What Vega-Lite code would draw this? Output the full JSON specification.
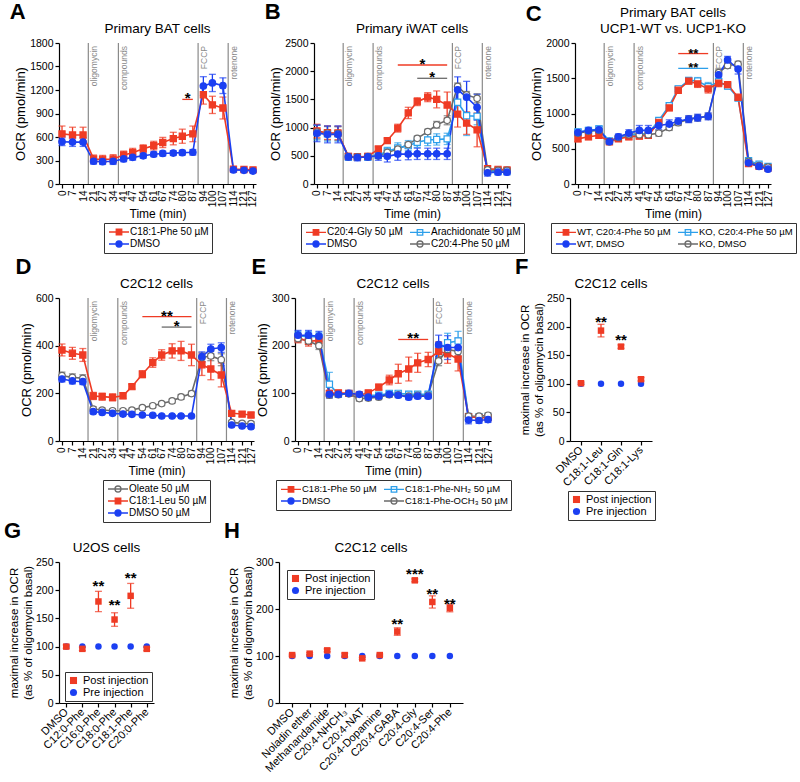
{
"$schema":"https://vega.github.io/schema/vega-lite/v6.json",
"padding":{"left":3,"top":0,"right":3,"bottom":2},
"config":{"font":"Liberation Sans","view":{"stroke":null},
"axis":{"domainColor":"black","domainWidth":1.2,"tickColor":"black","tickWidth":1.2,"tickSize":4,"labelColor":"black","labelFontSize":10.5,"titleColor":"black","titleFontSize":12,"titleFontWeight":"normal","grid":false,"labelPadding":2,"titlePadding":2,"labelOverlap":false},
"axisX":{"titleFontWeight":"normal"},
"axisY":{"titleFontSize":13,"titleFontWeight":"normal"},
"title":{"fontSize":13.5,"fontWeight":"normal","offset":3,"color":"black","lineHeight":16},
"legend":{"strokeColor":"#333","padding":3,"labelFontSize":10,"labelColor":"black","rowPadding":0,"columnPadding":4,"symbolStrokeWidth":1.3,"offset":3,"labelLimit":220,"layout":{"bottom":{"anchor":"middle"}}}},
"datasets":{
"ev":[{"t":17.5,"lab":"oligomycin"},{"t":37.5,"lab":"compounds"},{"t":90.5,"lab":"FCCP"},{"t":110.5,"lab":"rotenone"}],
"A":[
{"s":"C18:1-Phe 50 µM","t":0,"m":640,"e":100},{"s":"C18:1-Phe 50 µM","t":7,"m":625,"e":100},{"s":"C18:1-Phe 50 µM","t":14,"m":625,"e":100},{"s":"C18:1-Phe 50 µM","t":21,"m":320,"e":50},{"s":"C18:1-Phe 50 µM","t":27,"m":315,"e":50},{"s":"C18:1-Phe 50 µM","t":34,"m":320,"e":55},{"s":"C18:1-Phe 50 µM","t":41,"m":370,"e":50},{"s":"C18:1-Phe 50 µM","t":47,"m":400,"e":55},{"s":"C18:1-Phe 50 µM","t":54,"m":450,"e":50},{"s":"C18:1-Phe 50 µM","t":61,"m":490,"e":55},{"s":"C18:1-Phe 50 µM","t":67,"m":530,"e":65},{"s":"C18:1-Phe 50 µM","t":74,"m":580,"e":80},{"s":"C18:1-Phe 50 µM","t":80,"m":610,"e":90},{"s":"C18:1-Phe 50 µM","t":87,"m":640,"e":100},{"s":"C18:1-Phe 50 µM","t":94,"m":1140,"e":120},{"s":"C18:1-Phe 50 µM","t":100,"m":1010,"e":110},{"s":"C18:1-Phe 50 µM","t":107,"m":970,"e":140},{"s":"C18:1-Phe 50 µM","t":114,"m":190,"e":20},{"s":"C18:1-Phe 50 µM","t":121,"m":185,"e":20},{"s":"C18:1-Phe 50 µM","t":127,"m":180,"e":20},
{"s":"DMSO","t":0,"m":540,"e":50},{"s":"DMSO","t":7,"m":535,"e":55},{"s":"DMSO","t":14,"m":535,"e":55},{"s":"DMSO","t":21,"m":290,"e":35},{"s":"DMSO","t":27,"m":285,"e":35},{"s":"DMSO","t":34,"m":290,"e":40},{"s":"DMSO","t":41,"m":320,"e":35},{"s":"DMSO","t":47,"m":340,"e":35},{"s":"DMSO","t":54,"m":360,"e":30},{"s":"DMSO","t":61,"m":380,"e":30},{"s":"DMSO","t":67,"m":390,"e":30},{"s":"DMSO","t":74,"m":395,"e":30},{"s":"DMSO","t":80,"m":400,"e":30},{"s":"DMSO","t":87,"m":405,"e":35},{"s":"DMSO","t":94,"m":1250,"e":120},{"s":"DMSO","t":100,"m":1290,"e":110},{"s":"DMSO","t":107,"m":1255,"e":100},{"s":"DMSO","t":114,"m":180,"e":15},{"s":"DMSO","t":121,"m":175,"e":15},{"s":"DMSO","t":127,"m":165,"e":15}],
"B":[
{"s":"C20:4-Phe 50 µM","t":0,"m":920,"e":120},{"s":"C20:4-Phe 50 µM","t":7,"m":900,"e":120},{"s":"C20:4-Phe 50 µM","t":14,"m":895,"e":120},{"s":"C20:4-Phe 50 µM","t":21,"m":485,"e":50},{"s":"C20:4-Phe 50 µM","t":27,"m":475,"e":50},{"s":"C20:4-Phe 50 µM","t":34,"m":485,"e":50},{"s":"C20:4-Phe 50 µM","t":41,"m":500,"e":40},{"s":"C20:4-Phe 50 µM","t":47,"m":560,"e":40},{"s":"C20:4-Phe 50 µM","t":54,"m":620,"e":40},{"s":"C20:4-Phe 50 µM","t":61,"m":700,"e":40},{"s":"C20:4-Phe 50 µM","t":67,"m":810,"e":40},{"s":"C20:4-Phe 50 µM","t":74,"m":930,"e":40},{"s":"C20:4-Phe 50 µM","t":80,"m":1050,"e":60},{"s":"C20:4-Phe 50 µM","t":87,"m":1130,"e":80},{"s":"C20:4-Phe 50 µM","t":94,"m":1730,"e":60},{"s":"C20:4-Phe 50 µM","t":100,"m":1580,"e":60},{"s":"C20:4-Phe 50 µM","t":107,"m":1520,"e":80},{"s":"C20:4-Phe 50 µM","t":114,"m":250,"e":40},{"s":"C20:4-Phe 50 µM","t":121,"m":240,"e":40},{"s":"C20:4-Phe 50 µM","t":127,"m":240,"e":40},
{"s":"Arachidonate 50 µM","t":0,"m":910,"e":130},{"s":"Arachidonate 50 µM","t":7,"m":890,"e":130},{"s":"Arachidonate 50 µM","t":14,"m":890,"e":130},{"s":"Arachidonate 50 µM","t":21,"m":480,"e":50},{"s":"Arachidonate 50 µM","t":27,"m":475,"e":50},{"s":"Arachidonate 50 µM","t":34,"m":480,"e":50},{"s":"Arachidonate 50 µM","t":41,"m":510,"e":60},{"s":"Arachidonate 50 µM","t":47,"m":580,"e":70},{"s":"Arachidonate 50 µM","t":54,"m":640,"e":90},{"s":"Arachidonate 50 µM","t":61,"m":680,"e":90},{"s":"Arachidonate 50 µM","t":67,"m":740,"e":90},{"s":"Arachidonate 50 µM","t":74,"m":780,"e":100},{"s":"Arachidonate 50 µM","t":80,"m":790,"e":100},{"s":"Arachidonate 50 µM","t":87,"m":800,"e":100},{"s":"Arachidonate 50 µM","t":94,"m":1450,"e":250},{"s":"Arachidonate 50 µM","t":100,"m":1210,"e":350},{"s":"Arachidonate 50 µM","t":107,"m":1200,"e":150},{"s":"Arachidonate 50 µM","t":114,"m":220,"e":50},{"s":"Arachidonate 50 µM","t":121,"m":230,"e":50},{"s":"Arachidonate 50 µM","t":127,"m":230,"e":50},
{"s":"C20:4-Gly 50 µM","t":0,"m":940,"e":120},{"s":"C20:4-Gly 50 µM","t":7,"m":910,"e":120},{"s":"C20:4-Gly 50 µM","t":14,"m":905,"e":120},{"s":"C20:4-Gly 50 µM","t":21,"m":490,"e":50},{"s":"C20:4-Gly 50 µM","t":27,"m":480,"e":50},{"s":"C20:4-Gly 50 µM","t":34,"m":490,"e":50},{"s":"C20:4-Gly 50 µM","t":41,"m":620,"e":40},{"s":"C20:4-Gly 50 µM","t":47,"m":770,"e":40},{"s":"C20:4-Gly 50 µM","t":54,"m":990,"e":70},{"s":"C20:4-Gly 50 µM","t":61,"m":1260,"e":100},{"s":"C20:4-Gly 50 µM","t":67,"m":1460,"e":70},{"s":"C20:4-Gly 50 µM","t":74,"m":1540,"e":80},{"s":"C20:4-Gly 50 µM","t":80,"m":1500,"e":150},{"s":"C20:4-Gly 50 µM","t":87,"m":1400,"e":230},{"s":"C20:4-Gly 50 µM","t":94,"m":1240,"e":230},{"s":"C20:4-Gly 50 µM","t":100,"m":1080,"e":200},{"s":"C20:4-Gly 50 µM","t":107,"m":960,"e":300},{"s":"C20:4-Gly 50 µM","t":114,"m":270,"e":40},{"s":"C20:4-Gly 50 µM","t":121,"m":260,"e":30},{"s":"C20:4-Gly 50 µM","t":127,"m":250,"e":30},
{"s":"DMSO","t":0,"m":900,"e":150},{"s":"DMSO","t":7,"m":880,"e":150},{"s":"DMSO","t":14,"m":880,"e":150},{"s":"DMSO","t":21,"m":480,"e":60},{"s":"DMSO","t":27,"m":470,"e":60},{"s":"DMSO","t":34,"m":480,"e":60},{"s":"DMSO","t":41,"m":500,"e":80},{"s":"DMSO","t":47,"m":490,"e":100},{"s":"DMSO","t":54,"m":530,"e":110},{"s":"DMSO","t":61,"m":530,"e":100},{"s":"DMSO","t":67,"m":535,"e":100},{"s":"DMSO","t":74,"m":535,"e":100},{"s":"DMSO","t":80,"m":535,"e":100},{"s":"DMSO","t":87,"m":535,"e":100},{"s":"DMSO","t":94,"m":1670,"e":230},{"s":"DMSO","t":100,"m":1540,"e":280},{"s":"DMSO","t":107,"m":1360,"e":230},{"s":"DMSO","t":114,"m":200,"e":60},{"s":"DMSO","t":121,"m":210,"e":50},{"s":"DMSO","t":127,"m":210,"e":50}],
"C":[
{"s":"KO, DMSO","t":0,"m":720,"e":30},{"s":"KO, DMSO","t":7,"m":750,"e":30},{"s":"KO, DMSO","t":14,"m":760,"e":30},{"s":"KO, DMSO","t":21,"m":600,"e":30},{"s":"KO, DMSO","t":27,"m":660,"e":30},{"s":"KO, DMSO","t":34,"m":700,"e":40},{"s":"KO, DMSO","t":41,"m":700,"e":40},{"s":"KO, DMSO","t":47,"m":700,"e":40},{"s":"KO, DMSO","t":54,"m":720,"e":40},{"s":"KO, DMSO","t":61,"m":800,"e":40},{"s":"KO, DMSO","t":67,"m":870,"e":40},{"s":"KO, DMSO","t":74,"m":920,"e":40},{"s":"KO, DMSO","t":80,"m":940,"e":40},{"s":"KO, DMSO","t":87,"m":960,"e":40},{"s":"KO, DMSO","t":94,"m":1580,"e":50},{"s":"KO, DMSO","t":100,"m":1680,"e":40},{"s":"KO, DMSO","t":107,"m":1700,"e":40},{"s":"KO, DMSO","t":114,"m":320,"e":30},{"s":"KO, DMSO","t":121,"m":260,"e":20},{"s":"KO, DMSO","t":127,"m":240,"e":20},
{"s":"KO, C20:4-Phe 50 µM","t":0,"m":740,"e":40},{"s":"KO, C20:4-Phe 50 µM","t":7,"m":760,"e":40},{"s":"KO, C20:4-Phe 50 µM","t":14,"m":780,"e":40},{"s":"KO, C20:4-Phe 50 µM","t":21,"m":610,"e":30},{"s":"KO, C20:4-Phe 50 µM","t":27,"m":650,"e":30},{"s":"KO, C20:4-Phe 50 µM","t":34,"m":700,"e":40},{"s":"KO, C20:4-Phe 50 µM","t":41,"m":700,"e":40},{"s":"KO, C20:4-Phe 50 µM","t":47,"m":720,"e":40},{"s":"KO, C20:4-Phe 50 µM","t":54,"m":900,"e":40},{"s":"KO, C20:4-Phe 50 µM","t":61,"m":1110,"e":40},{"s":"KO, C20:4-Phe 50 µM","t":67,"m":1350,"e":40},{"s":"KO, C20:4-Phe 50 µM","t":74,"m":1470,"e":40},{"s":"KO, C20:4-Phe 50 µM","t":80,"m":1460,"e":50},{"s":"KO, C20:4-Phe 50 µM","t":87,"m":1380,"e":60},{"s":"KO, C20:4-Phe 50 µM","t":94,"m":1450,"e":50},{"s":"KO, C20:4-Phe 50 µM","t":100,"m":1390,"e":40},{"s":"KO, C20:4-Phe 50 µM","t":107,"m":1220,"e":30},{"s":"KO, C20:4-Phe 50 µM","t":114,"m":330,"e":30},{"s":"KO, C20:4-Phe 50 µM","t":121,"m":280,"e":20},{"s":"KO, C20:4-Phe 50 µM","t":127,"m":250,"e":20},
{"s":"WT, C20:4-Phe 50 µM","t":0,"m":640,"e":40},{"s":"WT, C20:4-Phe 50 µM","t":7,"m":670,"e":40},{"s":"WT, C20:4-Phe 50 µM","t":14,"m":690,"e":40},{"s":"WT, C20:4-Phe 50 µM","t":21,"m":600,"e":30},{"s":"WT, C20:4-Phe 50 µM","t":27,"m":640,"e":30},{"s":"WT, C20:4-Phe 50 µM","t":34,"m":670,"e":40},{"s":"WT, C20:4-Phe 50 µM","t":41,"m":680,"e":40},{"s":"WT, C20:4-Phe 50 µM","t":47,"m":690,"e":40},{"s":"WT, C20:4-Phe 50 µM","t":54,"m":875,"e":40},{"s":"WT, C20:4-Phe 50 µM","t":61,"m":1080,"e":40},{"s":"WT, C20:4-Phe 50 µM","t":67,"m":1330,"e":40},{"s":"WT, C20:4-Phe 50 µM","t":74,"m":1460,"e":40},{"s":"WT, C20:4-Phe 50 µM","t":80,"m":1420,"e":50},{"s":"WT, C20:4-Phe 50 µM","t":87,"m":1350,"e":60},{"s":"WT, C20:4-Phe 50 µM","t":94,"m":1430,"e":50},{"s":"WT, C20:4-Phe 50 µM","t":100,"m":1410,"e":40},{"s":"WT, C20:4-Phe 50 µM","t":107,"m":1230,"e":30},{"s":"WT, C20:4-Phe 50 µM","t":114,"m":290,"e":30},{"s":"WT, C20:4-Phe 50 µM","t":121,"m":250,"e":20},{"s":"WT, C20:4-Phe 50 µM","t":127,"m":230,"e":20},
{"s":"WT, DMSO","t":0,"m":730,"e":40},{"s":"WT, DMSO","t":7,"m":760,"e":40},{"s":"WT, DMSO","t":14,"m":770,"e":50},{"s":"WT, DMSO","t":21,"m":600,"e":30},{"s":"WT, DMSO","t":27,"m":670,"e":40},{"s":"WT, DMSO","t":34,"m":720,"e":50},{"s":"WT, DMSO","t":41,"m":760,"e":70},{"s":"WT, DMSO","t":47,"m":760,"e":70},{"s":"WT, DMSO","t":54,"m":830,"e":60},{"s":"WT, DMSO","t":61,"m":850,"e":60},{"s":"WT, DMSO","t":67,"m":890,"e":50},{"s":"WT, DMSO","t":74,"m":920,"e":50},{"s":"WT, DMSO","t":80,"m":940,"e":50},{"s":"WT, DMSO","t":87,"m":960,"e":50},{"s":"WT, DMSO","t":94,"m":1550,"e":50},{"s":"WT, DMSO","t":100,"m":1760,"e":50},{"s":"WT, DMSO","t":107,"m":1630,"e":70},{"s":"WT, DMSO","t":114,"m":300,"e":40},{"s":"WT, DMSO","t":121,"m":250,"e":30},{"s":"WT, DMSO","t":127,"m":210,"e":30}],
"D":[
{"s":"Oleate 50 µM","t":0,"m":274,"e":15},{"s":"Oleate 50 µM","t":7,"m":267,"e":15},{"s":"Oleate 50 µM","t":14,"m":263,"e":15},{"s":"Oleate 50 µM","t":21,"m":134,"e":10},{"s":"Oleate 50 µM","t":27,"m":130,"e":8},{"s":"Oleate 50 µM","t":34,"m":127,"e":8},{"s":"Oleate 50 µM","t":41,"m":127,"e":8},{"s":"Oleate 50 µM","t":47,"m":130,"e":8},{"s":"Oleate 50 µM","t":54,"m":140,"e":8},{"s":"Oleate 50 µM","t":61,"m":148,"e":8},{"s":"Oleate 50 µM","t":67,"m":157,"e":8},{"s":"Oleate 50 µM","t":74,"m":168,"e":8},{"s":"Oleate 50 µM","t":80,"m":185,"e":10},{"s":"Oleate 50 µM","t":87,"m":199,"e":10},{"s":"Oleate 50 µM","t":94,"m":350,"e":20},{"s":"Oleate 50 µM","t":100,"m":357,"e":20},{"s":"Oleate 50 µM","t":107,"m":341,"e":25},{"s":"Oleate 50 µM","t":114,"m":78,"e":8},{"s":"Oleate 50 µM","t":121,"m":74,"e":8},{"s":"Oleate 50 µM","t":127,"m":73,"e":8},
{"s":"C18:1-Leu 50 µM","t":0,"m":382,"e":25},{"s":"C18:1-Leu 50 µM","t":7,"m":368,"e":25},{"s":"C18:1-Leu 50 µM","t":14,"m":361,"e":27},{"s":"C18:1-Leu 50 µM","t":21,"m":189,"e":15},{"s":"C18:1-Leu 50 µM","t":27,"m":186,"e":15},{"s":"C18:1-Leu 50 µM","t":34,"m":183,"e":15},{"s":"C18:1-Leu 50 µM","t":41,"m":190,"e":12},{"s":"C18:1-Leu 50 µM","t":47,"m":228,"e":10},{"s":"C18:1-Leu 50 µM","t":54,"m":280,"e":15},{"s":"C18:1-Leu 50 µM","t":61,"m":329,"e":20},{"s":"C18:1-Leu 50 µM","t":67,"m":361,"e":22},{"s":"C18:1-Leu 50 µM","t":74,"m":378,"e":30},{"s":"C18:1-Leu 50 µM","t":80,"m":378,"e":40},{"s":"C18:1-Leu 50 µM","t":87,"m":361,"e":45},{"s":"C18:1-Leu 50 µM","t":94,"m":320,"e":45},{"s":"C18:1-Leu 50 µM","t":100,"m":302,"e":45},{"s":"C18:1-Leu 50 µM","t":107,"m":277,"e":50},{"s":"C18:1-Leu 50 µM","t":114,"m":116,"e":10},{"s":"C18:1-Leu 50 µM","t":121,"m":113,"e":10},{"s":"C18:1-Leu 50 µM","t":127,"m":109,"e":10},
{"s":"DMSO 50 µM","t":0,"m":260,"e":12},{"s":"DMSO 50 µM","t":7,"m":252,"e":12},{"s":"DMSO 50 µM","t":14,"m":249,"e":12},{"s":"DMSO 50 µM","t":21,"m":123,"e":8},{"s":"DMSO 50 µM","t":27,"m":120,"e":6},{"s":"DMSO 50 µM","t":34,"m":116,"e":6},{"s":"DMSO 50 µM","t":41,"m":113,"e":6},{"s":"DMSO 50 µM","t":47,"m":112,"e":6},{"s":"DMSO 50 µM","t":54,"m":109,"e":5},{"s":"DMSO 50 µM","t":61,"m":108,"e":5},{"s":"DMSO 50 µM","t":67,"m":105,"e":5},{"s":"DMSO 50 µM","t":74,"m":105,"e":5},{"s":"DMSO 50 µM","t":80,"m":105,"e":5},{"s":"DMSO 50 µM","t":87,"m":105,"e":5},{"s":"DMSO 50 µM","t":94,"m":354,"e":20},{"s":"DMSO 50 µM","t":100,"m":386,"e":20},{"s":"DMSO 50 µM","t":107,"m":392,"e":20},{"s":"DMSO 50 µM","t":114,"m":67,"e":6},{"s":"DMSO 50 µM","t":121,"m":63,"e":6},{"s":"DMSO 50 µM","t":127,"m":60,"e":6}],
"E":[
{"s":"C18:1-Phe-OCH₃ 50 µM","t":0,"m":215,"e":8},{"s":"C18:1-Phe-OCH₃ 50 µM","t":7,"m":210,"e":8},{"s":"C18:1-Phe-OCH₃ 50 µM","t":14,"m":200,"e":8},{"s":"C18:1-Phe-OCH₃ 50 µM","t":21,"m":96,"e":5},{"s":"C18:1-Phe-OCH₃ 50 µM","t":27,"m":97,"e":5},{"s":"C18:1-Phe-OCH₃ 50 µM","t":34,"m":99,"e":5},{"s":"C18:1-Phe-OCH₃ 50 µM","t":41,"m":89,"e":5},{"s":"C18:1-Phe-OCH₃ 50 µM","t":47,"m":90,"e":5},{"s":"C18:1-Phe-OCH₃ 50 µM","t":54,"m":92,"e":5},{"s":"C18:1-Phe-OCH₃ 50 µM","t":61,"m":97,"e":5},{"s":"C18:1-Phe-OCH₃ 50 µM","t":67,"m":97,"e":5},{"s":"C18:1-Phe-OCH₃ 50 µM","t":74,"m":94,"e":5},{"s":"C18:1-Phe-OCH₃ 50 µM","t":80,"m":96,"e":5},{"s":"C18:1-Phe-OCH₃ 50 µM","t":87,"m":96,"e":5},{"s":"C18:1-Phe-OCH₃ 50 µM","t":94,"m":168,"e":10},{"s":"C18:1-Phe-OCH₃ 50 µM","t":100,"m":192,"e":10},{"s":"C18:1-Phe-OCH₃ 50 µM","t":107,"m":188,"e":10},{"s":"C18:1-Phe-OCH₃ 50 µM","t":114,"m":52,"e":5},{"s":"C18:1-Phe-OCH₃ 50 µM","t":121,"m":52,"e":5},{"s":"C18:1-Phe-OCH₃ 50 µM","t":127,"m":54,"e":5},
{"s":"C18:1-Phe-NH₂ 50 µM","t":0,"m":220,"e":10},{"s":"C18:1-Phe-NH₂ 50 µM","t":7,"m":220,"e":10},{"s":"C18:1-Phe-NH₂ 50 µM","t":14,"m":218,"e":10},{"s":"C18:1-Phe-NH₂ 50 µM","t":21,"m":119,"e":25},{"s":"C18:1-Phe-NH₂ 50 µM","t":27,"m":98,"e":5},{"s":"C18:1-Phe-NH₂ 50 µM","t":34,"m":100,"e":5},{"s":"C18:1-Phe-NH₂ 50 µM","t":41,"m":95,"e":5},{"s":"C18:1-Phe-NH₂ 50 µM","t":47,"m":96,"e":5},{"s":"C18:1-Phe-NH₂ 50 µM","t":54,"m":96,"e":5},{"s":"C18:1-Phe-NH₂ 50 µM","t":61,"m":100,"e":5},{"s":"C18:1-Phe-NH₂ 50 µM","t":67,"m":100,"e":5},{"s":"C18:1-Phe-NH₂ 50 µM","t":74,"m":98,"e":5},{"s":"C18:1-Phe-NH₂ 50 µM","t":80,"m":98,"e":5},{"s":"C18:1-Phe-NH₂ 50 µM","t":87,"m":98,"e":5},{"s":"C18:1-Phe-NH₂ 50 µM","t":94,"m":192,"e":15},{"s":"C18:1-Phe-NH₂ 50 µM","t":100,"m":206,"e":20},{"s":"C18:1-Phe-NH₂ 50 µM","t":107,"m":210,"e":20},{"s":"C18:1-Phe-NH₂ 50 µM","t":114,"m":50,"e":8},{"s":"C18:1-Phe-NH₂ 50 µM","t":121,"m":50,"e":6},{"s":"C18:1-Phe-NH₂ 50 µM","t":127,"m":50,"e":6},
{"s":"C18:1-Phe 50 µM","t":0,"m":216,"e":10},{"s":"C18:1-Phe 50 µM","t":7,"m":209,"e":10},{"s":"C18:1-Phe 50 µM","t":14,"m":211,"e":10},{"s":"C18:1-Phe 50 µM","t":21,"m":100,"e":5},{"s":"C18:1-Phe 50 µM","t":27,"m":101,"e":5},{"s":"C18:1-Phe 50 µM","t":34,"m":100,"e":5},{"s":"C18:1-Phe 50 µM","t":41,"m":96,"e":5},{"s":"C18:1-Phe 50 µM","t":47,"m":101,"e":5},{"s":"C18:1-Phe 50 µM","t":54,"m":113,"e":6},{"s":"C18:1-Phe 50 µM","t":61,"m":128,"e":10},{"s":"C18:1-Phe 50 µM","t":67,"m":141,"e":20},{"s":"C18:1-Phe 50 µM","t":74,"m":151,"e":25},{"s":"C18:1-Phe 50 µM","t":80,"m":164,"e":20},{"s":"C18:1-Phe 50 µM","t":87,"m":171,"e":15},{"s":"C18:1-Phe 50 µM","t":94,"m":188,"e":20},{"s":"C18:1-Phe 50 µM","t":100,"m":183,"e":20},{"s":"C18:1-Phe 50 µM","t":107,"m":172,"e":25},{"s":"C18:1-Phe 50 µM","t":114,"m":51,"e":5},{"s":"C18:1-Phe 50 µM","t":121,"m":49,"e":5},{"s":"C18:1-Phe 50 µM","t":127,"m":49,"e":5},
{"s":"DMSO","t":0,"m":222,"e":10},{"s":"DMSO","t":7,"m":222,"e":10},{"s":"DMSO","t":14,"m":220,"e":10},{"s":"DMSO","t":21,"m":98,"e":8},{"s":"DMSO","t":27,"m":98,"e":5},{"s":"DMSO","t":34,"m":100,"e":5},{"s":"DMSO","t":41,"m":98,"e":5},{"s":"DMSO","t":47,"m":92,"e":5},{"s":"DMSO","t":54,"m":94,"e":5},{"s":"DMSO","t":61,"m":98,"e":5},{"s":"DMSO","t":67,"m":96,"e":5},{"s":"DMSO","t":74,"m":92,"e":5},{"s":"DMSO","t":80,"m":94,"e":5},{"s":"DMSO","t":87,"m":94,"e":5},{"s":"DMSO","t":94,"m":202,"e":20},{"s":"DMSO","t":100,"m":196,"e":25},{"s":"DMSO","t":107,"m":196,"e":20},{"s":"DMSO","t":114,"m":44,"e":8},{"s":"DMSO","t":121,"m":43,"e":6},{"s":"DMSO","t":127,"m":45,"e":6}],
"brA":[{"t":80,"t2":87,"tm":83.5,"y":1080,"s":"C18:1-Phe 50 µM","lab":"*"}],
"brB":[{"t":54,"t2":87,"tm":70.5,"y":2110,"s":"C20:4-Gly 50 µM","lab":"*"},{"t":67,"t2":87,"tm":77,"y":1874,"s":"C20:4-Phe 50 µM","lab":"*"}],
"brC":[{"t":67,"t2":87,"tm":77,"y":1850,"s":"WT, C20:4-Phe 50 µM","lab":"**"},{"t":67,"t2":87,"tm":77,"y":1640,"s":"KO, C20:4-Phe 50 µM","lab":"**"}],
"brD":[{"t":54,"t2":87,"tm":70.5,"y":522,"s":"C18:1-Leu 50 µM","lab":"**"},{"t":67,"t2":87,"tm":77,"y":478,"s":"Oleate 50 µM","lab":"*"}],
"brE":[{"t":67,"t2":87,"tm":77,"y":213,"s":"C18:1-Phe 50 µM","lab":"**"}],
"F":[{"c":"DMSO","g":"Pre injection","m":100,"e":0},{"c":"C18:1-Leu","g":"Pre injection","m":100,"e":0},{"c":"C18:1-Gln","g":"Pre injection","m":100,"e":0},{"c":"C18:1-Lys","g":"Pre injection","m":100,"e":0},
{"c":"DMSO","g":"Post injection","m":101,"e":2},{"c":"C18:1-Leu","g":"Post injection","m":193,"e":11},{"c":"C18:1-Gln","g":"Post injection","m":165,"e":3},{"c":"C18:1-Lys","g":"Post injection","m":108,"e":3}],
"stF":[{"c":"C18:1-Leu","y":214,"lab":"**"},{"c":"C18:1-Gln","y":182,"lab":"**"}],
"G":[{"c":"DMSO","g":"Pre injection","m":100,"e":0},{"c":"C12:0-Phe","g":"Pre injection","m":100,"e":0},{"c":"C16:0-Phe","g":"Pre injection","m":100,"e":0},{"c":"C18:0-Phe","g":"Pre injection","m":100,"e":0},{"c":"C18:1-Phe","g":"Pre injection","m":100,"e":0},{"c":"C20:0-Phe","g":"Pre injection","m":100,"e":0},
{"c":"DMSO","g":"Post injection","m":100,"e":3},{"c":"C12:0-Phe","g":"Post injection","m":96,"e":3},{"c":"C16:0-Phe","g":"Post injection","m":180,"e":18},{"c":"C18:0-Phe","g":"Post injection","m":148,"e":12},{"c":"C18:1-Phe","g":"Post injection","m":190,"e":22},{"c":"C20:0-Phe","g":"Post injection","m":96,"e":3}],
"stG":[{"c":"C16:0-Phe","y":213,"lab":"**"},{"c":"C18:0-Phe","y":179,"lab":"**"},{"c":"C18:1-Phe","y":227,"lab":"**"}],
"H":[{"c":"DMSO","g":"Pre injection","m":100,"e":0},{"c":"Noladin ether","g":"Pre injection","m":100,"e":0},{"c":"Methanandamide","g":"Pre injection","m":100,"e":0},{"c":"C20:4-NHCH₃","g":"Pre injection","m":100,"e":0},{"c":"C20:4-NAT","g":"Pre injection","m":100,"e":0},{"c":"C20:4-Dopamine","g":"Pre injection","m":100,"e":0},{"c":"C20:4-GABA","g":"Pre injection","m":100,"e":0},{"c":"C20:4-Gly","g":"Pre injection","m":100,"e":0},{"c":"C20:4-Ser","g":"Pre injection","m":100,"e":0},{"c":"C20:4-Phe","g":"Pre injection","m":100,"e":0},
{"c":"DMSO","g":"Post injection","m":102,"e":2},{"c":"Noladin ether","g":"Post injection","m":105,"e":2},{"c":"Methanandamide","g":"Post injection","m":112,"e":3},{"c":"C20:4-NHCH₃","g":"Post injection","m":102,"e":4},{"c":"C20:4-NAT","g":"Post injection","m":95,"e":2},{"c":"C20:4-Dopamine","g":"Post injection","m":102,"e":2},{"c":"C20:4-GABA","g":"Post injection","m":152,"e":8},{"c":"C20:4-Gly","g":"Post injection","m":261,"e":3},{"c":"C20:4-Ser","g":"Post injection","m":215,"e":13},{"c":"C20:4-Phe","g":"Post injection","m":202,"e":8}],
"stH":[{"c":"C20:4-GABA","y":174,"lab":"**"},{"c":"C20:4-Gly","y":280,"lab":"***"},{"c":"C20:4-Ser","y":238,"lab":"**"},{"c":"C20:4-Phe","y":218,"lab":"**"}]
},
"spacing":-4,
"resolve":{"scale":{"color":"independent","fill":"independent","stroke":"independent","shape":"independent"}},
"vconcat":[
{"spacing":1,"resolve":{"scale":{"color":"independent","fill":"independent","stroke":"independent","shape":"independent"}},
"vconcat":[
{"spacing":0,"resolve":{"scale":{"color":"independent","fill":"independent","stroke":"independent","shape":"independent"}},
"hconcat":[
{"spacing":5,"resolve":{"scale":{"color":"independent","fill":"independent","stroke":"independent","shape":"independent"}},
"hconcat":[
{"title":{"text":"A","anchor":"start","frame":"bounds","fontSize":22,"fontWeight":"bold","dx":-5,"dy":2,"offset":0},"resolve":{"scale":{"color":"independent","fill":"independent","stroke":"independent","shape":"independent"}},
"vconcat":[{"width":197,"height":141,"title":{"text":"Primary BAT cells","fontWeight":"normal"},"layer":[
{"data":{"name":"A"},"transform":[{"filter":"false"}],"mark":{"type":"point","size":100,"filled":true,"opacity":1,"strokeWidth":1.3},"encoding":{"x":{"field":"t","type":"quantitative","title":"Time (min)"},"y":{"field":"m","type":"quantitative","title":"OCR (pmol/min)"},
"fill":{"field":"s","type":"nominal","scale":{"domain":["C18:1-Phe 50 µM","DMSO"],"range":["#EF3B24","#1B3FF2"]},"legend":{"title":null,"orient":"bottom","direction":"vertical","columns":1,"symbolSize":100,"symbolOffset":6,"labelOffset":5}},
"stroke":{"field":"s","type":"nominal","scale":{"domain":["C18:1-Phe 50 µM","DMSO"],"range":["#EF3B24","#1B3FF2"]},"legend":{"title":null,"orient":"bottom","direction":"vertical","columns":1,"symbolSize":100,"symbolOffset":6,"labelOffset":5}},
"shape":{"field":"s","type":"nominal","scale":{"domain":["C18:1-Phe 50 µM","DMSO"],"range":["M-2,0L2,0M-0.55,-0.55L0.55,-0.55L0.55,0.55L-0.55,0.55Z","M-2,0L2,0M0.6,0A0.6,0.6,0,1,1,-0.6,0A0.6,0.6,0,1,1,0.6,0Z"]},"legend":{"title":null,"orient":"bottom","direction":"vertical","columns":1,"symbolSize":100,"symbolOffset":6,"labelOffset":5}}}},
{"data":{"name":"ev"},"mark":{"type":"rule","color":"#8a8a8a","strokeWidth":1.2},"encoding":{"x":{"field":"t","type":"quantitative","title":"Time (min)","scale":{"domain":[-2,129],"nice":false,"zero":false},"axis":{"values":[0,7,14,21,27,34,41,47,54,61,67,74,80,87,94,100,107,114,121,127],"tickCount":40,"labelAngle":270,"labelAlign":"right","labelBaseline":"middle","labelOverlap":false,"labelFontSize":10,"labelPadding":2,"titleFontWeight":"normal"}}}},
{"data":{"name":"ev"},"mark":{"type":"text","angle":270,"align":"right","baseline":"top","dx":-3,"dy":2,"fontSize":8.5,"color":"#8a8a8a"},"encoding":{"x":{"field":"t","type":"quantitative","title":"Time (min)"},"y":{"datum":1800,"type":"quantitative"},"text":{"field":"lab"}}},
{"data":{"name":"A"},"mark":{"type":"errorbar","ticks":{"size":7},"thickness":1.3},"encoding":{"x":{"field":"t","type":"quantitative","title":"Time (min)"},"y":{"field":"m","type":"quantitative","title":"OCR (pmol/min)","scale":{"domain":[0,1800],"nice":false},"axis":{"values":[0,300,600,900,1200,1500,1800],"tickCount":10,"format":"d","titleFontWeight":"normal"}},"yError":{"field":"e"},"color":{"field":"s","type":"nominal","scale":{"domain":["DMSO","C18:1-Phe 50 µM"],"range":["#1B3FF2","#EF3B24"]},"legend":null}}},
{"data":{"name":"A"},"mark":{"type":"line","strokeWidth":1.6},"encoding":{"x":{"field":"t","type":"quantitative","title":"Time (min)"},"y":{"field":"m","type":"quantitative","title":"OCR (pmol/min)"},"stroke":{"field":"s","type":"nominal","legend":null}}},
{"data":{"name":"A"},"transform":[{"filter":{"field":"s","oneOf":["C18:1-Phe 50 µM"]}}],"mark":{"type":"point","shape":"square","size":38,"filled":true,"opacity":1,"strokeWidth":1.2},"encoding":{"x":{"field":"t","type":"quantitative","title":"Time (min)"},"y":{"field":"m","type":"quantitative","title":"OCR (pmol/min)"},"fill":{"field":"s","type":"nominal","legend":null},"stroke":{"field":"s","type":"nominal","legend":null}}},
{"data":{"name":"A"},"transform":[{"filter":{"field":"s","oneOf":["DMSO"]}}],"mark":{"type":"point","shape":"circle","size":42,"filled":true,"opacity":1,"strokeWidth":1.2},"encoding":{"x":{"field":"t","type":"quantitative","title":"Time (min)"},"y":{"field":"m","type":"quantitative","title":"OCR (pmol/min)"},"fill":{"field":"s","type":"nominal","legend":null},"stroke":{"field":"s","type":"nominal","legend":null}}},
{"data":{"name":"brA"},"mark":{"type":"rule","strokeWidth":1.3},"encoding":{"x":{"field":"t","type":"quantitative","title":"Time (min)"},"x2":{"field":"t2"},"y":{"field":"y","type":"quantitative","title":"OCR (pmol/min)"},"stroke":{"field":"s","type":"nominal","legend":null}}},
{"data":{"name":"brA"},"mark":{"type":"text","baseline":"alphabetic","dy":4,"fontSize":15,"fontWeight":"bold","color":"black"},"encoding":{"x":{"field":"tm","type":"quantitative","title":"Time (min)"},"y":{"field":"y","type":"quantitative","title":"OCR (pmol/min)"},"text":{"field":"lab"}}}
]}]},
{"title":{"text":"B","anchor":"start","frame":"bounds","fontSize":22,"fontWeight":"bold","dx":-5,"dy":2,"offset":0},"resolve":{"scale":{"color":"independent","fill":"independent","stroke":"independent","shape":"independent"}},
"vconcat":[{"width":196,"height":141,"title":{"text":"Primary iWAT cells","fontWeight":"normal"},"layer":[
{"data":{"name":"B"},"transform":[{"filter":"false"}],"mark":{"type":"point","size":100,"filled":true,"opacity":1,"strokeWidth":1.3},"encoding":{"x":{"field":"t","type":"quantitative","title":"Time (min)"},"y":{"field":"m","type":"quantitative","title":"OCR (pmol/min)"},
"fill":{"field":"s","type":"nominal","scale":{"domain":["C20:4-Gly 50 µM","Arachidonate 50 µM","DMSO","C20:4-Phe 50 µM"],"range":["#EF3B24","white","#1B3FF2","white"]},"legend":{"title":null,"orient":"bottom","columns":2,"symbolSize":100,"symbolOffset":6,"labelOffset":5}},
"stroke":{"field":"s","type":"nominal","scale":{"domain":["C20:4-Gly 50 µM","Arachidonate 50 µM","DMSO","C20:4-Phe 50 µM"],"range":["#EF3B24","#2C9FEA","#1B3FF2","#6B6B6B"]},"legend":{"title":null,"orient":"bottom","columns":2,"symbolSize":100,"symbolOffset":6,"labelOffset":5}},
"shape":{"field":"s","type":"nominal","scale":{"domain":["C20:4-Gly 50 µM","Arachidonate 50 µM","DMSO","C20:4-Phe 50 µM"],"range":["M-2,0L2,0M-0.55,-0.55L0.55,-0.55L0.55,0.55L-0.55,0.55Z","M-2,0L2,0M-0.55,-0.55L0.55,-0.55L0.55,0.55L-0.55,0.55Z","M-2,0L2,0M0.6,0A0.6,0.6,0,1,1,-0.6,0A0.6,0.6,0,1,1,0.6,0Z","M-2,0L2,0M0.6,0A0.6,0.6,0,1,1,-0.6,0A0.6,0.6,0,1,1,0.6,0Z"]},"legend":{"title":null,"orient":"bottom","columns":2,"symbolSize":100,"symbolOffset":6,"labelOffset":5}}}},
{"data":{"name":"ev"},"mark":{"type":"rule","color":"#8a8a8a","strokeWidth":1.2},"encoding":{"x":{"field":"t","type":"quantitative","title":"Time (min)","scale":{"domain":[-2,129],"nice":false,"zero":false},"axis":{"values":[0,7,14,21,27,34,41,47,54,61,67,74,80,87,94,100,107,114,121,127],"tickCount":40,"labelAngle":270,"labelAlign":"right","labelBaseline":"middle","labelOverlap":false,"labelFontSize":10,"labelPadding":2,"titleFontWeight":"normal"}}}},
{"data":{"name":"ev"},"mark":{"type":"text","angle":270,"align":"right","baseline":"top","dx":-3,"dy":2,"fontSize":8.5,"color":"#8a8a8a"},"encoding":{"x":{"field":"t","type":"quantitative","title":"Time (min)"},"y":{"datum":2500,"type":"quantitative"},"text":{"field":"lab"}}},
{"data":{"name":"B"},"mark":{"type":"errorbar","ticks":{"size":7},"thickness":1.3},"encoding":{"x":{"field":"t","type":"quantitative","title":"Time (min)"},"y":{"field":"m","type":"quantitative","title":"OCR (pmol/min)","scale":{"domain":[0,2500],"nice":false},"axis":{"values":[0,500,1000,1500,2000,2500],"tickCount":10,"format":"d","titleFontWeight":"normal"}},"yError":{"field":"e"},"color":{"field":"s","type":"nominal","scale":{"domain":["C20:4-Phe 50 µM","DMSO","Arachidonate 50 µM","C20:4-Gly 50 µM"],"range":["#6B6B6B","#1B3FF2","#2C9FEA","#EF3B24"]},"legend":null}}},
{"data":{"name":"B"},"mark":{"type":"line","strokeWidth":1.6},"encoding":{"x":{"field":"t","type":"quantitative","title":"Time (min)"},"y":{"field":"m","type":"quantitative","title":"OCR (pmol/min)"},"stroke":{"field":"s","type":"nominal","legend":null}}},
{"data":{"name":"B"},"transform":[{"filter":{"field":"s","oneOf":["C20:4-Gly 50 µM","Arachidonate 50 µM"]}}],"mark":{"type":"point","shape":"square","size":38,"filled":true,"opacity":1,"strokeWidth":1.2},"encoding":{"x":{"field":"t","type":"quantitative","title":"Time (min)"},"y":{"field":"m","type":"quantitative","title":"OCR (pmol/min)"},"fill":{"field":"s","type":"nominal","legend":null},"stroke":{"field":"s","type":"nominal","legend":null}}},
{"data":{"name":"B"},"transform":[{"filter":{"field":"s","oneOf":["DMSO","C20:4-Phe 50 µM"]}}],"mark":{"type":"point","shape":"circle","size":42,"filled":true,"opacity":1,"strokeWidth":1.2},"encoding":{"x":{"field":"t","type":"quantitative","title":"Time (min)"},"y":{"field":"m","type":"quantitative","title":"OCR (pmol/min)"},"fill":{"field":"s","type":"nominal","legend":null},"stroke":{"field":"s","type":"nominal","legend":null}}},
{"data":{"name":"brB"},"mark":{"type":"rule","strokeWidth":1.3},"encoding":{"x":{"field":"t","type":"quantitative","title":"Time (min)"},"x2":{"field":"t2"},"y":{"field":"y","type":"quantitative","title":"OCR (pmol/min)"},"stroke":{"field":"s","type":"nominal","legend":null}}},
{"data":{"name":"brB"},"mark":{"type":"text","baseline":"alphabetic","dy":4,"fontSize":15,"fontWeight":"bold","color":"black"},"encoding":{"x":{"field":"tm","type":"quantitative","title":"Time (min)"},"y":{"field":"y","type":"quantitative","title":"OCR (pmol/min)"},"text":{"field":"lab"}}}
]}]}
]},
{"title":{"text":"C","anchor":"start","frame":"bounds","fontSize":22,"fontWeight":"bold","dx":-5,"dy":20,"offset":0},"resolve":{"scale":{"color":"independent","fill":"independent","stroke":"independent","shape":"independent"}},
"vconcat":[{"width":196,"height":141,"title":{"text":["Primary BAT cells","UCP1-WT vs. UCP1-KO"],"fontWeight":"normal"},"layer":[
{"data":{"name":"C"},"transform":[{"filter":"false"}],"mark":{"type":"point","size":100,"filled":true,"opacity":1,"strokeWidth":1.3},"encoding":{"x":{"field":"t","type":"quantitative","title":"Time (min)"},"y":{"field":"m","type":"quantitative","title":"OCR (pmol/min)"},
"fill":{"field":"s","type":"nominal","scale":{"domain":["WT, C20:4-Phe 50 µM","KO, C20:4-Phe 50 µM","WT, DMSO","KO, DMSO"],"range":["#EF3B24","white","#1B3FF2","white"]},"legend":{"title":null,"orient":"bottom","columns":2,"symbolSize":100,"symbolOffset":6,"labelOffset":5,"labelFontSize":9.5}},
"stroke":{"field":"s","type":"nominal","scale":{"domain":["WT, C20:4-Phe 50 µM","KO, C20:4-Phe 50 µM","WT, DMSO","KO, DMSO"],"range":["#EF3B24","#2C9FEA","#1B3FF2","#6B6B6B"]},"legend":{"title":null,"orient":"bottom","columns":2,"symbolSize":100,"symbolOffset":6,"labelOffset":5,"labelFontSize":9.5}},
"shape":{"field":"s","type":"nominal","scale":{"domain":["WT, C20:4-Phe 50 µM","KO, C20:4-Phe 50 µM","WT, DMSO","KO, DMSO"],"range":["M-2,0L2,0M-0.55,-0.55L0.55,-0.55L0.55,0.55L-0.55,0.55Z","M-2,0L2,0M-0.55,-0.55L0.55,-0.55L0.55,0.55L-0.55,0.55Z","M-2,0L2,0M0.6,0A0.6,0.6,0,1,1,-0.6,0A0.6,0.6,0,1,1,0.6,0Z","M-2,0L2,0M0.6,0A0.6,0.6,0,1,1,-0.6,0A0.6,0.6,0,1,1,0.6,0Z"]},"legend":{"title":null,"orient":"bottom","columns":2,"symbolSize":100,"symbolOffset":6,"labelOffset":5,"labelFontSize":9.5}}}},
{"data":{"name":"ev"},"mark":{"type":"rule","color":"#8a8a8a","strokeWidth":1.2},"encoding":{"x":{"field":"t","type":"quantitative","title":"Time (min)","scale":{"domain":[-2,129],"nice":false,"zero":false},"axis":{"values":[0,7,14,21,27,34,41,47,54,61,67,74,80,87,94,100,107,114,121,127],"tickCount":40,"labelAngle":270,"labelAlign":"right","labelBaseline":"middle","labelOverlap":false,"labelFontSize":10,"labelPadding":2,"titleFontWeight":"normal"}}}},
{"data":{"name":"ev"},"mark":{"type":"text","angle":270,"align":"right","baseline":"top","dx":-3,"dy":2,"fontSize":8.5,"color":"#8a8a8a"},"encoding":{"x":{"field":"t","type":"quantitative","title":"Time (min)"},"y":{"datum":2000,"type":"quantitative"},"text":{"field":"lab"}}},
{"data":{"name":"C"},"mark":{"type":"errorbar","ticks":{"size":7},"thickness":1.3},"encoding":{"x":{"field":"t","type":"quantitative","title":"Time (min)"},"y":{"field":"m","type":"quantitative","title":"OCR (pmol/min)","scale":{"domain":[0,2000],"nice":false},"axis":{"values":[0,500,1000,1500,2000],"tickCount":10,"format":"d","titleFontWeight":"normal"}},"yError":{"field":"e"},"color":{"field":"s","type":"nominal","scale":{"domain":["KO, DMSO","WT, DMSO","KO, C20:4-Phe 50 µM","WT, C20:4-Phe 50 µM"],"range":["#6B6B6B","#1B3FF2","#2C9FEA","#EF3B24"]},"legend":null}}},
{"data":{"name":"C"},"mark":{"type":"line","strokeWidth":1.6},"encoding":{"x":{"field":"t","type":"quantitative","title":"Time (min)"},"y":{"field":"m","type":"quantitative","title":"OCR (pmol/min)"},"stroke":{"field":"s","type":"nominal","legend":null}}},
{"data":{"name":"C"},"transform":[{"filter":{"field":"s","oneOf":["WT, C20:4-Phe 50 µM","KO, C20:4-Phe 50 µM"]}}],"mark":{"type":"point","shape":"square","size":38,"filled":true,"opacity":1,"strokeWidth":1.2},"encoding":{"x":{"field":"t","type":"quantitative","title":"Time (min)"},"y":{"field":"m","type":"quantitative","title":"OCR (pmol/min)"},"fill":{"field":"s","type":"nominal","legend":null},"stroke":{"field":"s","type":"nominal","legend":null}}},
{"data":{"name":"C"},"transform":[{"filter":{"field":"s","oneOf":["WT, DMSO","KO, DMSO"]}}],"mark":{"type":"point","shape":"circle","size":42,"filled":true,"opacity":1,"strokeWidth":1.2},"encoding":{"x":{"field":"t","type":"quantitative","title":"Time (min)"},"y":{"field":"m","type":"quantitative","title":"OCR (pmol/min)"},"fill":{"field":"s","type":"nominal","legend":null},"stroke":{"field":"s","type":"nominal","legend":null}}},
{"data":{"name":"brC"},"mark":{"type":"rule","strokeWidth":1.3},"encoding":{"x":{"field":"t","type":"quantitative","title":"Time (min)"},"x2":{"field":"t2"},"y":{"field":"y","type":"quantitative","title":"OCR (pmol/min)"},"stroke":{"field":"s","type":"nominal","legend":null}}},
{"data":{"name":"brC"},"mark":{"type":"text","baseline":"alphabetic","dy":4,"fontSize":13,"fontWeight":"bold","color":"black"},"encoding":{"x":{"field":"tm","type":"quantitative","title":"Time (min)"},"y":{"field":"y","type":"quantitative","title":"OCR (pmol/min)"},"text":{"field":"lab"}}}
]}]}
]},
{"spacing":2,"resolve":{"scale":{"color":"independent","fill":"independent","stroke":"independent","shape":"independent"}},
"hconcat":[
{"spacing":-6,"resolve":{"scale":{"color":"independent","fill":"independent","stroke":"independent","shape":"independent"}},
"hconcat":[
{"title":{"text":"D","anchor":"start","frame":"bounds","fontSize":22,"fontWeight":"bold","dx":-5,"dy":2,"offset":0},"resolve":{"scale":{"color":"independent","fill":"independent","stroke":"independent","shape":"independent"}},
"vconcat":[{"width":195,"height":143,"title":{"text":"C2C12 cells","fontWeight":"normal"},"layer":[
{"data":{"name":"D"},"transform":[{"filter":"false"}],"mark":{"type":"point","size":100,"filled":true,"opacity":1,"strokeWidth":1.3},"encoding":{"x":{"field":"t","type":"quantitative","title":"Time (min)"},"y":{"field":"m","type":"quantitative","title":"OCR (pmol/min)"},
"fill":{"field":"s","type":"nominal","scale":{"domain":["Oleate 50 µM","C18:1-Leu 50 µM","DMSO 50 µM"],"range":["white","#EF3B24","#1B3FF2"]},"legend":{"title":null,"orient":"bottom","direction":"vertical","columns":1,"symbolSize":100,"symbolOffset":6,"labelOffset":5}},
"stroke":{"field":"s","type":"nominal","scale":{"domain":["Oleate 50 µM","C18:1-Leu 50 µM","DMSO 50 µM"],"range":["#6B6B6B","#EF3B24","#1B3FF2"]},"legend":{"title":null,"orient":"bottom","direction":"vertical","columns":1,"symbolSize":100,"symbolOffset":6,"labelOffset":5}},
"shape":{"field":"s","type":"nominal","scale":{"domain":["Oleate 50 µM","C18:1-Leu 50 µM","DMSO 50 µM"],"range":["M-2,0L2,0M0.6,0A0.6,0.6,0,1,1,-0.6,0A0.6,0.6,0,1,1,0.6,0Z","M-2,0L2,0M-0.55,-0.55L0.55,-0.55L0.55,0.55L-0.55,0.55Z","M-2,0L2,0M0.6,0A0.6,0.6,0,1,1,-0.6,0A0.6,0.6,0,1,1,0.6,0Z"]},"legend":{"title":null,"orient":"bottom","direction":"vertical","columns":1,"symbolSize":100,"symbolOffset":6,"labelOffset":5}}}},
{"data":{"name":"ev"},"mark":{"type":"rule","color":"#8a8a8a","strokeWidth":1.2},"encoding":{"x":{"field":"t","type":"quantitative","title":"Time (min)","scale":{"domain":[-2,129],"nice":false,"zero":false},"axis":{"values":[0,7,14,21,27,34,41,47,54,61,67,74,80,87,94,100,107,114,121,127],"tickCount":40,"labelAngle":270,"labelAlign":"right","labelBaseline":"middle","labelOverlap":false,"labelFontSize":10,"labelPadding":2,"titleFontWeight":"normal"}}}},
{"data":{"name":"ev"},"mark":{"type":"text","angle":270,"align":"right","baseline":"top","dx":-3,"dy":2,"fontSize":8.5,"color":"#8a8a8a"},"encoding":{"x":{"field":"t","type":"quantitative","title":"Time (min)"},"y":{"datum":600,"type":"quantitative"},"text":{"field":"lab"}}},
{"data":{"name":"D"},"mark":{"type":"errorbar","ticks":{"size":7},"thickness":1.3},"encoding":{"x":{"field":"t","type":"quantitative","title":"Time (min)"},"y":{"field":"m","type":"quantitative","title":"OCR (pmol/min)","scale":{"domain":[0,600],"nice":false},"axis":{"values":[0,200,400,600],"tickCount":10,"format":"d","titleFontWeight":"normal"}},"yError":{"field":"e"},"color":{"field":"s","type":"nominal","scale":{"domain":["DMSO 50 µM","C18:1-Leu 50 µM","Oleate 50 µM"],"range":["#1B3FF2","#EF3B24","#6B6B6B"]},"legend":null}}},
{"data":{"name":"D"},"mark":{"type":"line","strokeWidth":1.6},"encoding":{"x":{"field":"t","type":"quantitative","title":"Time (min)"},"y":{"field":"m","type":"quantitative","title":"OCR (pmol/min)"},"stroke":{"field":"s","type":"nominal","legend":null}}},
{"data":{"name":"D"},"transform":[{"filter":{"field":"s","oneOf":["C18:1-Leu 50 µM"]}}],"mark":{"type":"point","shape":"square","size":38,"filled":true,"opacity":1,"strokeWidth":1.2},"encoding":{"x":{"field":"t","type":"quantitative","title":"Time (min)"},"y":{"field":"m","type":"quantitative","title":"OCR (pmol/min)"},"fill":{"field":"s","type":"nominal","legend":null},"stroke":{"field":"s","type":"nominal","legend":null}}},
{"data":{"name":"D"},"transform":[{"filter":{"field":"s","oneOf":["Oleate 50 µM","DMSO 50 µM"]}}],"mark":{"type":"point","shape":"circle","size":42,"filled":true,"opacity":1,"strokeWidth":1.2},"encoding":{"x":{"field":"t","type":"quantitative","title":"Time (min)"},"y":{"field":"m","type":"quantitative","title":"OCR (pmol/min)"},"fill":{"field":"s","type":"nominal","legend":null},"stroke":{"field":"s","type":"nominal","legend":null}}},
{"data":{"name":"brD"},"mark":{"type":"rule","strokeWidth":1.3},"encoding":{"x":{"field":"t","type":"quantitative","title":"Time (min)"},"x2":{"field":"t2"},"y":{"field":"y","type":"quantitative","title":"OCR (pmol/min)"},"stroke":{"field":"s","type":"nominal","legend":null}}},
{"data":{"name":"brD"},"mark":{"type":"text","baseline":"alphabetic","dy":4,"fontSize":15,"fontWeight":"bold","color":"black"},"encoding":{"x":{"field":"tm","type":"quantitative","title":"Time (min)"},"y":{"field":"y","type":"quantitative","title":"OCR (pmol/min)"},"text":{"field":"lab"}}}
]}]},
{"title":{"text":"E","anchor":"start","frame":"bounds","fontSize":22,"fontWeight":"bold","dx":-5,"dy":2,"offset":0},"resolve":{"scale":{"color":"independent","fill":"independent","stroke":"independent","shape":"independent"}},
"vconcat":[{"width":196,"height":143,"title":{"text":"C2C12 cells","fontWeight":"normal"},"layer":[
{"data":{"name":"E"},"transform":[{"filter":"false"}],"mark":{"type":"point","size":100,"filled":true,"opacity":1,"strokeWidth":1.3},"encoding":{"x":{"field":"t","type":"quantitative","title":"Time (min)"},"y":{"field":"m","type":"quantitative","title":"OCR (pmol/min)"},
"fill":{"field":"s","type":"nominal","scale":{"domain":["C18:1-Phe 50 µM","C18:1-Phe-NH₂ 50 µM","DMSO","C18:1-Phe-OCH₃ 50 µM"],"range":["#EF3B24","white","#1B3FF2","white"]},"legend":{"title":null,"orient":"bottom","columns":2,"symbolSize":100,"symbolOffset":6,"labelOffset":5,"labelFontSize":9.5}},
"stroke":{"field":"s","type":"nominal","scale":{"domain":["C18:1-Phe 50 µM","C18:1-Phe-NH₂ 50 µM","DMSO","C18:1-Phe-OCH₃ 50 µM"],"range":["#EF3B24","#2C9FEA","#1B3FF2","#6B6B6B"]},"legend":{"title":null,"orient":"bottom","columns":2,"symbolSize":100,"symbolOffset":6,"labelOffset":5,"labelFontSize":9.5}},
"shape":{"field":"s","type":"nominal","scale":{"domain":["C18:1-Phe 50 µM","C18:1-Phe-NH₂ 50 µM","DMSO","C18:1-Phe-OCH₃ 50 µM"],"range":["M-2,0L2,0M-0.55,-0.55L0.55,-0.55L0.55,0.55L-0.55,0.55Z","M-2,0L2,0M-0.55,-0.55L0.55,-0.55L0.55,0.55L-0.55,0.55Z","M-2,0L2,0M0.6,0A0.6,0.6,0,1,1,-0.6,0A0.6,0.6,0,1,1,0.6,0Z","M-2,0L2,0M0.6,0A0.6,0.6,0,1,1,-0.6,0A0.6,0.6,0,1,1,0.6,0Z"]},"legend":{"title":null,"orient":"bottom","columns":2,"symbolSize":100,"symbolOffset":6,"labelOffset":5,"labelFontSize":9.5}}}},
{"data":{"name":"ev"},"mark":{"type":"rule","color":"#8a8a8a","strokeWidth":1.2},"encoding":{"x":{"field":"t","type":"quantitative","title":"Time (min)","scale":{"domain":[-2,129],"nice":false,"zero":false},"axis":{"values":[0,7,14,21,27,34,41,47,54,61,67,74,80,87,94,100,107,114,121,127],"tickCount":40,"labelAngle":270,"labelAlign":"right","labelBaseline":"middle","labelOverlap":false,"labelFontSize":10,"labelPadding":2,"titleFontWeight":"normal"}}}},
{"data":{"name":"ev"},"mark":{"type":"text","angle":270,"align":"right","baseline":"top","dx":-3,"dy":2,"fontSize":8.5,"color":"#8a8a8a"},"encoding":{"x":{"field":"t","type":"quantitative","title":"Time (min)"},"y":{"datum":300,"type":"quantitative"},"text":{"field":"lab"}}},
{"data":{"name":"E"},"mark":{"type":"errorbar","ticks":{"size":7},"thickness":1.3},"encoding":{"x":{"field":"t","type":"quantitative","title":"Time (min)"},"y":{"field":"m","type":"quantitative","title":"OCR (pmol/min)","scale":{"domain":[0,300],"nice":false},"axis":{"values":[0,100,200,300],"tickCount":10,"format":"d","titleFontWeight":"normal"}},"yError":{"field":"e"},"color":{"field":"s","type":"nominal","scale":{"domain":["C18:1-Phe-OCH₃ 50 µM","DMSO","C18:1-Phe-NH₂ 50 µM","C18:1-Phe 50 µM"],"range":["#6B6B6B","#1B3FF2","#2C9FEA","#EF3B24"]},"legend":null}}},
{"data":{"name":"E"},"mark":{"type":"line","strokeWidth":1.6},"encoding":{"x":{"field":"t","type":"quantitative","title":"Time (min)"},"y":{"field":"m","type":"quantitative","title":"OCR (pmol/min)"},"stroke":{"field":"s","type":"nominal","legend":null}}},
{"data":{"name":"E"},"transform":[{"filter":{"field":"s","oneOf":["C18:1-Phe 50 µM","C18:1-Phe-NH₂ 50 µM"]}}],"mark":{"type":"point","shape":"square","size":38,"filled":true,"opacity":1,"strokeWidth":1.2},"encoding":{"x":{"field":"t","type":"quantitative","title":"Time (min)"},"y":{"field":"m","type":"quantitative","title":"OCR (pmol/min)"},"fill":{"field":"s","type":"nominal","legend":null},"stroke":{"field":"s","type":"nominal","legend":null}}},
{"data":{"name":"E"},"transform":[{"filter":{"field":"s","oneOf":["DMSO","C18:1-Phe-OCH₃ 50 µM"]}}],"mark":{"type":"point","shape":"circle","size":42,"filled":true,"opacity":1,"strokeWidth":1.2},"encoding":{"x":{"field":"t","type":"quantitative","title":"Time (min)"},"y":{"field":"m","type":"quantitative","title":"OCR (pmol/min)"},"fill":{"field":"s","type":"nominal","legend":null},"stroke":{"field":"s","type":"nominal","legend":null}}},
{"data":{"name":"brE"},"mark":{"type":"rule","strokeWidth":1.3},"encoding":{"x":{"field":"t","type":"quantitative","title":"Time (min)"},"x2":{"field":"t2"},"y":{"field":"y","type":"quantitative","title":"OCR (pmol/min)"},"stroke":{"field":"s","type":"nominal","legend":null}}},
{"data":{"name":"brE"},"mark":{"type":"text","baseline":"alphabetic","dy":4,"fontSize":15,"fontWeight":"bold","color":"black"},"encoding":{"x":{"field":"tm","type":"quantitative","title":"Time (min)"},"y":{"field":"y","type":"quantitative","title":"OCR (pmol/min)"},"text":{"field":"lab"}}}
]}]}
]},
{"title":{"text":"F","anchor":"start","frame":"bounds","fontSize":22,"fontWeight":"bold","dx":-5,"dy":2,"offset":0},"resolve":{"scale":{"color":"independent","fill":"independent","stroke":"independent","shape":"independent"}},
"vconcat":[{"width":82,"height":143,"title":{"text":"C2C12 cells","fontWeight":"normal"},"layer":[
{"data":{"name":"F"},"transform":[{"filter":{"field":"g","equal":"Post injection"}}],"mark":{"type":"errorbar","ticks":{"size":7},"thickness":1.3,"color":"#EF3B24"},"encoding":{"x":{"field":"c","type":"nominal","title":null,"sort":["DMSO","C18:1-Leu","C18:1-Gln","C18:1-Lys"],"scale":{"type":"point","padding":0.55},"axis":{"labelAngle":-45,"labelAlign":"right","labelBaseline":"middle","labelFontSize":11,"labelPadding":3}},"y":{"field":"m","type":"quantitative","title":["maximal increase in OCR","(as % of oligomycin basal)"],"scale":{"domain":[0,250],"nice":false},"axis":{"values":[0,50,100,150,200,250],"tickCount":10,"titleFontSize":11.5,"titleFontWeight":"normal"}},"yError":{"field":"e"}}},
{"data":{"name":"F"},"mark":{"type":"point","filled":true,"opacity":1,"size":42},"encoding":{"x":{"field":"c","type":"nominal","title":null,"sort":["DMSO","C18:1-Leu","C18:1-Gln","C18:1-Lys"]},"y":{"field":"m","type":"quantitative","title":["maximal increase in OCR","(as % of oligomycin basal)"]},"color":{"field":"g","type":"nominal","scale":{"domain":["Post injection","Pre injection"],"range":["#EF3B24","#1B3FF2"]},"legend":{"title":null,"orient":"bottom","direction":"vertical","symbolSize":50,"labelFontSize":11}},"shape":{"field":"g","type":"nominal","scale":{"domain":["Post injection","Pre injection"],"range":["square","circle"]},"legend":{"title":null,"orient":"bottom","direction":"vertical","symbolSize":50,"labelFontSize":11}}}},
{"data":{"name":"stF"},"mark":{"type":"text","baseline":"middle","dy":3,"fontSize":15,"fontWeight":"bold","color":"black"},"encoding":{"x":{"field":"c","type":"nominal","title":null,"sort":["DMSO","C18:1-Leu","C18:1-Gln","C18:1-Lys"]},"y":{"field":"y","type":"quantitative","title":["maximal increase in OCR","(as % of oligomycin basal)"]},"text":{"field":"lab"}}}
]}]}
]}
]},
{"spacing":69,"resolve":{"scale":{"color":"independent","fill":"independent","stroke":"independent","shape":"independent"}},
"hconcat":[
{"title":{"text":"G","anchor":"start","frame":"bounds","fontSize":22,"fontWeight":"bold","dx":-5,"dy":2,"offset":0},"resolve":{"scale":{"color":"independent","fill":"independent","stroke":"independent","shape":"independent"}},
"vconcat":[{"width":95,"height":141,"title":{"text":"U2OS cells","fontWeight":"normal"},"layer":[
{"data":{"name":"G"},"transform":[{"filter":{"field":"g","equal":"Post injection"}}],"mark":{"type":"errorbar","ticks":{"size":7},"thickness":1.3,"color":"#EF3B24"},"encoding":{"x":{"field":"c","type":"nominal","title":null,"sort":["DMSO","C12:0-Phe","C16:0-Phe","C18:0-Phe","C18:1-Phe","C20:0-Phe"],"scale":{"type":"point","padding":0.45},"axis":{"labelAngle":-45,"labelAlign":"right","labelBaseline":"middle","labelFontSize":11,"labelPadding":3}},"y":{"field":"m","type":"quantitative","title":["maximal increase in OCR","(as % of oligomycin basal)"],"scale":{"domain":[0,250],"nice":false},"axis":{"values":[0,50,100,150,200,250],"tickCount":10,"titleFontSize":11.5,"titleFontWeight":"normal"}},"yError":{"field":"e"}}},
{"data":{"name":"G"},"mark":{"type":"point","filled":true,"opacity":1,"size":42},"encoding":{"x":{"field":"c","type":"nominal","title":null,"sort":["DMSO","C12:0-Phe","C16:0-Phe","C18:0-Phe","C18:1-Phe","C20:0-Phe"]},"y":{"field":"m","type":"quantitative","title":["maximal increase in OCR","(as % of oligomycin basal)"]},"color":{"field":"g","type":"nominal","scale":{"domain":["Post injection","Pre injection"],"range":["#EF3B24","#1B3FF2"]},"legend":{"title":null,"orient":"bottom-right","offset":2,"symbolSize":50,"labelFontSize":11}},"shape":{"field":"g","type":"nominal","scale":{"domain":["Post injection","Pre injection"],"range":["square","circle"]},"legend":{"title":null,"orient":"bottom-right","offset":2,"symbolSize":50,"labelFontSize":11}}}},
{"data":{"name":"stG"},"mark":{"type":"text","baseline":"middle","dy":3,"fontSize":15,"fontWeight":"bold","color":"black"},"encoding":{"x":{"field":"c","type":"nominal","title":null,"sort":["DMSO","C12:0-Phe","C16:0-Phe","C18:0-Phe","C18:1-Phe","C20:0-Phe"]},"y":{"field":"y","type":"quantitative","title":["maximal increase in OCR","(as % of oligomycin basal)"]},"text":{"field":"lab"}}}
]}]},
{"title":{"text":"H","anchor":"start","frame":"bounds","fontSize":22,"fontWeight":"bold","dx":-5,"dy":2,"offset":0},"resolve":{"scale":{"color":"independent","fill":"independent","stroke":"independent","shape":"independent"}},
"vconcat":[{"width":184,"height":141,"title":{"text":"C2C12 cells","fontWeight":"normal"},"layer":[
{"data":{"name":"H"},"transform":[{"filter":{"field":"g","equal":"Post injection"}}],"mark":{"type":"errorbar","ticks":{"size":7},"thickness":1.3,"color":"#EF3B24"},"encoding":{"x":{"field":"c","type":"nominal","title":null,"sort":["DMSO","Noladin ether","Methanandamide","C20:4-NHCH₃","C20:4-NAT","C20:4-Dopamine","C20:4-GABA","C20:4-Gly","C20:4-Ser","C20:4-Phe"],"scale":{"type":"point","padding":0.75},"axis":{"labelAngle":-45,"labelAlign":"right","labelBaseline":"middle","labelFontSize":11,"labelPadding":3}},"y":{"field":"m","type":"quantitative","title":["maximal increase in OCR","(as % of oligomycin basal)"],"scale":{"domain":[0,300],"nice":false},"axis":{"values":[0,100,200,300],"tickCount":10,"titleFontSize":11.5,"titleFontWeight":"normal"}},"yError":{"field":"e"}}},
{"data":{"name":"H"},"mark":{"type":"point","filled":true,"opacity":1,"size":42},"encoding":{"x":{"field":"c","type":"nominal","title":null,"sort":["DMSO","Noladin ether","Methanandamide","C20:4-NHCH₃","C20:4-NAT","C20:4-Dopamine","C20:4-GABA","C20:4-Gly","C20:4-Ser","C20:4-Phe"]},"y":{"field":"m","type":"quantitative","title":["maximal increase in OCR","(as % of oligomycin basal)"]},"color":{"field":"g","type":"nominal","scale":{"domain":["Post injection","Pre injection"],"range":["#EF3B24","#1B3FF2"]},"legend":{"title":null,"orient":"top-left","offset":8,"symbolSize":50,"labelFontSize":11}},"shape":{"field":"g","type":"nominal","scale":{"domain":["Post injection","Pre injection"],"range":["square","circle"]},"legend":{"title":null,"orient":"top-left","offset":8,"symbolSize":50,"labelFontSize":11}}}},
{"data":{"name":"stH"},"mark":{"type":"text","baseline":"middle","dy":3,"fontSize":15,"fontWeight":"bold","color":"black"},"encoding":{"x":{"field":"c","type":"nominal","title":null,"sort":["DMSO","Noladin ether","Methanandamide","C20:4-NHCH₃","C20:4-NAT","C20:4-Dopamine","C20:4-GABA","C20:4-Gly","C20:4-Ser","C20:4-Phe"]},"y":{"field":"y","type":"quantitative","title":["maximal increase in OCR","(as % of oligomycin basal)"]},"text":{"field":"lab"}}}
]}]}
]}
]
}
